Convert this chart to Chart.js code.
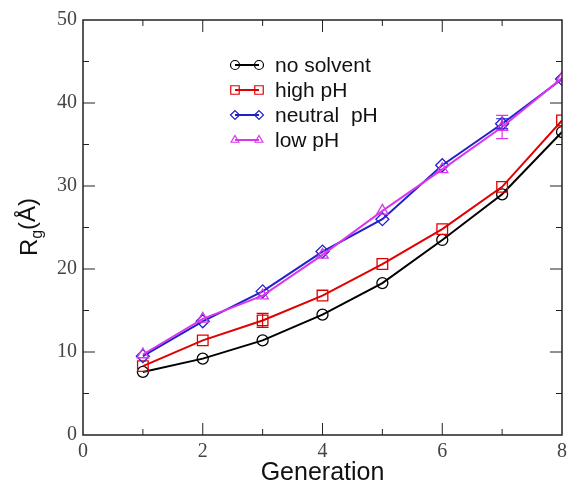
<!DOCTYPE html>
<html>
<head>
<meta charset="utf-8">
<script src="https://cdn.jsdelivr.net/npm/chart.js@4"></script>
<style>
  body { margin: 0; background: #fff; }
  #wrap { width: 572px; height: 487px; }
</style>
</head>
<body>
<div id="wrap"><canvas id="rgChart"></canvas></div>
<script>
// generation on x, radius of gyration on y
const generations = [1, 2, 3, 4, 5, 6, 7, 8];
const noSolvent  = [7.6, 9.2, 11.4, 14.5, 18.3, 23.5, 29.0, 36.5];
const highPH     = [8.3, 11.4, 13.8, 16.8, 20.6, 24.8, 29.9, 37.9];
const neutralPH  = [9.5, 13.7, 17.3, 22.1, 26.0, 32.5, 37.5, 42.9];
const lowPH      = [9.7, 14.0, 16.8, 21.7, 27.0, 32.0, 37.1, 43.0];
// error bar half widths (0 = none drawn)
const highPHErr    = [0, 0, 0.85, 0, 0, 0, 0, 0];
const neutralPHErr = [0, 0, 0, 0, 0, 0, 0.6, 0];
const lowPHErr     = [0, 0, 0, 0, 0, 0, 1.4, 0];
const xTicks = [0, 2, 4, 6, 8];
const yTicks = [0, 10, 20, 30, 40, 50];

function pts(ys) {
  return generations.map((g, i) => ({ x: g, y: ys[i] }));
}

function series(label, ys, errs, color, style, radius, order) {
  return {
    label: label,
    data: pts(ys),
    errs: errs,
    borderColor: color,
    borderWidth: 2,
    pointStyle: style,
    pointRadius: radius,
    pointBorderWidth: 1.3,
    pointBorderColor: color,
    pointBackgroundColor: 'rgba(0,0,0,0)',
    showLine: true,
    tension: 0,
    order: order
  };
}

const datasets = [
  series('no solvent', noSolvent, null, '#000000', 'circle', 5.5, 4),
  series('high pH', highPH, highPHErr, '#e00000', 'rect', 7.5, 3),
  series('neutral  pH', neutralPH, neutralPHErr, '#2020cc', 'rectRot', 6.5, 2),
  series('low pH', lowPH, lowPHErr, '#d838ec', 'triangle', 6.5, 1)
];

// marker drawer for the legend
function marker(ctx, ds, x, y, r) {
  if (Chart.helpers && Chart.helpers.drawPoint) {
    Chart.helpers.drawPoint(ctx, { pointStyle: ds.pointStyle, radius: r, rotation: 0, borderWidth: 1.2 }, x, y);
    return;
  }
  ctx.beginPath();
  if (ds.pointStyle === 'circle') ctx.arc(x, y, r, 0, Math.PI * 2);
  else if (ds.pointStyle === 'rect') ctx.rect(x - r * 0.7, y - r * 0.7, r * 1.4, r * 1.4);
  else if (ds.pointStyle === 'rectRot') { ctx.moveTo(x, y - r); ctx.lineTo(x + r, y); ctx.lineTo(x, y + r); ctx.lineTo(x - r, y); ctx.closePath(); }
  else { ctx.moveTo(x, y - r); ctx.lineTo(x + r * 0.87, y + r / 2); ctx.lineTo(x - r * 0.87, y + r / 2); ctx.closePath(); }
  ctx.stroke();
}

// frame, inside ticks on all four sides, error bars, legend, axis titles
const decorations = {
  id: 'decorations',
  afterDatasetsDraw(chart) {
    const ctx = chart.ctx;
    const a = chart.chartArea;
    const xs = chart.scales.x, ys = chart.scales.y;
    ctx.save();

    // error bars
    chart.data.datasets.forEach(ds => {
      if (!ds.errs) return;
      ctx.strokeStyle = ds.borderColor;
      ctx.lineWidth = 1.2;
      ds.data.forEach((p, i) => {
        const e = ds.errs[i];
        if (!e) return;
        const px = xs.getPixelForValue(p.x);
        const top = ys.getPixelForValue(p.y + e);
        const bot = ys.getPixelForValue(p.y - e);
        ctx.beginPath();
        ctx.moveTo(px, top); ctx.lineTo(px, bot);
        ctx.moveTo(px - 6, top); ctx.lineTo(px + 6, top);
        ctx.moveTo(px - 6, bot); ctx.lineTo(px + 6, bot);
        ctx.stroke();
      });
    });

    // frame
    ctx.strokeStyle = '#222';
    ctx.lineWidth = 1.5;
    ctx.strokeRect(a.left, a.top, a.right - a.left, a.bottom - a.top);

    // ticks
    ctx.lineWidth = 1;
    for (let v = 1; v < 8; v++) {
      const px = xs.getPixelForValue(v);
      const len = v % 2 === 0 ? 12 : 6;
      ctx.beginPath();
      ctx.moveTo(px, a.bottom); ctx.lineTo(px, a.bottom - len);
      ctx.moveTo(px, a.top); ctx.lineTo(px, a.top + len);
      ctx.stroke();
    }
    for (let v = 5; v < 50; v += 5) {
      const py = ys.getPixelForValue(v);
      const len = v % 10 === 0 ? 12 : 6;
      ctx.beginPath();
      ctx.moveTo(a.left, py); ctx.lineTo(a.left + len, py);
      ctx.moveTo(a.right, py); ctx.lineTo(a.right - len, py);
      ctx.stroke();
    }

    // legend
    const lx1 = 235, lx2 = 259, tx = 275;
    let ly = 65;
    ctx.font = '21px "Liberation Sans", Arial, sans-serif';
    ctx.textBaseline = 'middle';
    ctx.textAlign = 'left';
    chart.data.datasets.forEach(ds => {
      ctx.strokeStyle = ds.borderColor;
      ctx.lineWidth = 2;
      ctx.beginPath();
      ctx.moveTo(lx1, ly); ctx.lineTo(lx2, ly);
      ctx.stroke();
      const r = ds.pointStyle === 'rect' ? 6 : 4.5;
      [lx1, lx2].forEach(x => {
        ctx.strokeStyle = ds.borderColor;
        ctx.fillStyle = 'rgba(0,0,0,0)';
        ctx.lineWidth = 1.2;
        marker(ctx, ds, x, ly, r);
      });
      ctx.fillStyle = '#111';
      ctx.fillText(ds.label, tx, ly + 1);
      ly += 25;
    });

    // axis titles
    ctx.fillStyle = '#111';
    ctx.font = '25px "Liberation Sans", Arial, sans-serif';
    ctx.textAlign = 'center';
    ctx.textBaseline = 'middle';
    ctx.fillText('Generation', (a.left + a.right) / 2, 473);

    ctx.translate(30, 227);
    ctx.rotate(-Math.PI / 2);
    ctx.textAlign = 'left';
    ctx.font = '24px "Liberation Sans", Arial, sans-serif';
    const wR = ctx.measureText('R').width;
    ctx.font = '16px "Liberation Sans", Arial, sans-serif';
    const wg = ctx.measureText('g').width;
    ctx.font = '24px "Liberation Sans", Arial, sans-serif';
    const wA = ctx.measureText('(Å)').width;
    let x0 = -(wR + wg + wA) / 2;
    ctx.fillText('R', x0, 0);
    ctx.font = '16px "Liberation Sans", Arial, sans-serif';
    ctx.fillText('g', x0 + wR, 8);
    ctx.font = '24px "Liberation Sans", Arial, sans-serif';
    ctx.fillText('(Å)', x0 + wR + wg, -2);
    ctx.restore();
  }
};

const tickFont = { family: '"Liberation Serif", "Times New Roman", serif', size: 20 };

new Chart(document.getElementById('rgChart'), {
  type: 'scatter',
  data: { datasets: datasets },
  plugins: [decorations],
  options: {
    responsive: true,
    maintainAspectRatio: false,
    animation: false,
    layout: { padding: { top: 20, right: 8, left: 0, bottom: 0 } },
    plugins: {
      legend: { display: false },
      tooltip: { enabled: false }
    },
    scales: {
      x: {
        type: 'linear',
        min: 0, max: 8,
        afterBuildTicks: s => { s.ticks = xTicks.map(v => ({ value: v })); },
        afterFit: s => { s.height = 52; },
        grid: { display: false, drawTicks: false },
        border: { display: false },
        ticks: { font: tickFont, color: '#444', padding: 5, maxRotation: 0 }
      },
      y: {
        type: 'linear',
        min: 0, max: 50,
        afterBuildTicks: s => { s.ticks = yTicks.map(v => ({ value: v })); },
        afterFit: s => { s.width = 83; },
        grid: { display: false, drawTicks: false },
        border: { display: false },
        ticks: { font: tickFont, color: '#444', padding: 6 }
      }
    }
  }
});
</script>
</body>
</html>
